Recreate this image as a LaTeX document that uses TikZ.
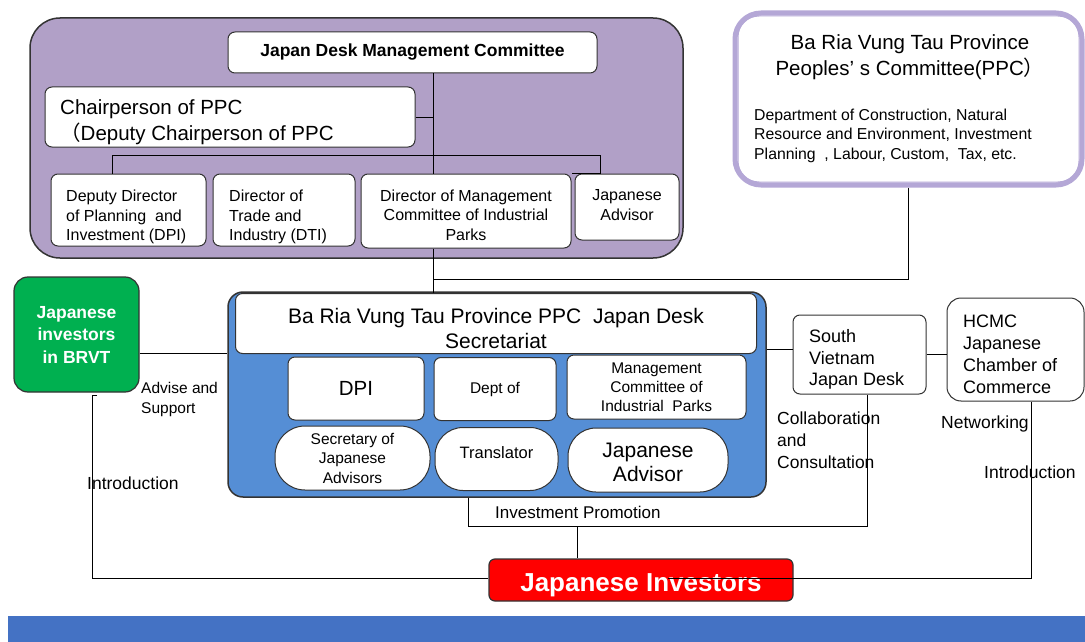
\documentclass[tikz,border=0pt]{standalone}
\usepackage{fontspec}
\setmainfont{Liberation Sans}
\newfontfamily\cjk{Noto Sans CJK JP}
\newcommand\fsz[2]{\fontsize{#1}{#2}\selectfont}
\definecolor{edge}{HTML}{333333}
\definecolor{pbg}{HTML}{B1A0C7}
\definecolor{lav}{HTML}{B4A7D6}
\definecolor{bbg}{HTML}{558ED5}
\definecolor{gbg}{HTML}{00B050}
\definecolor{band}{HTML}{4472C4}
\begin{document}
\begin{tikzpicture}[x=1pt,y=-1pt,
  bx/.style={draw=edge, fill=white, line width=1pt, rounded corners=7pt, inner sep=0pt},
  ln/.style={draw=black, line width=1pt},
  tx/.style={inner sep=0pt, align=center},
  lbl/.style={inner sep=0pt, anchor=west, align=left}]
\useasboundingbox (0,0) rectangle (1085,642);
\fill[white] (0,0) rectangle (1085,642);

% ---------- purple management block ----------
\node[draw=edge, line width=1.5pt, fill=pbg, rounded corners=30pt, minimum width=653pt, minimum height=240pt, inner sep=0pt] (pm) at (356.5,138) {};
\node[bx, minimum width=369pt, minimum height=41pt, font=\bfseries\fsz{17.5}{21}] (jdmc) at (412.5,52.5) {Japan Desk Management Committee};
\node[bx, minimum width=370pt, minimum height=60pt] (chair) at (230,117) {};
\node[lbl, font=\fsz{20.5}{26}] (chairT) at (60,122) {Chairperson of PPC\\{\cjk （}Deputy Chairperson of PPC};
\node[bx, minimum width=155pt, minimum height=72pt] (dd) at (128.5,210) {};
\node[lbl, font=\fsz{16}{19.5}] (ddT) at (66,217) {Deputy Director\\of Planning~ and\\Investment (DPI)};
\node[bx, minimum width=142pt, minimum height=72pt] (dt) at (284,210) {};
\node[lbl, font=\fsz{16}{19.5}] (dtT) at (229,217) {Director of\\Trade and\\Industry (DTI)};
\node[bx, minimum width=210pt, minimum height=74pt] (dm) at (466,211) {};
\node[tx, font=\fsz{16}{19.5}] (dmT) at (466,215) {Director of Management\\Committee of Industrial\\Parks};
\node[bx, minimum width=104pt, minimum height=66pt] (ja) at (627,207) {};
\node[tx, font=\fsz{16}{19.5}] (jaT) at (627,205) {Japanese\\Advisor};

\coordinate (vx) at (433,0);
\coordinate (bl) at (112,155);
\coordinate (br) at (600,155);
\draw[ln] (jdmc.south -| vx) -- (dm.north -| vx);
\draw[ln] (chair.east) -- (chair.east -| vx);
\draw[ln] (dd.north -| bl) -- (bl) -- (br) -- (ja.north -| br) -- (ja.north -| dm.east);

% ---------- PPC block ----------
\node[draw=lav, line width=5pt, fill=white, rounded corners=26pt, minimum width=347pt, minimum height=172pt, inner sep=0pt] (ppc) at (908.5,99) {};
\draw[lav, line width=1pt, rounded corners=21pt] ([shift={(5.5,5.5)}]ppc.north west) rectangle ([shift={(-5.5,-5.5)}]ppc.south east);
\node[tx, font=\fsz{20.5}{26}] (ppcT) at (910,57) {Ba Ria Vung Tau Province\\Peoples’ s Committee(PPC{\cjk ）}};
\node[lbl, font=\fsz{15.8}{19.5}] (ppcD) at (754,135.5) {Department of Construction, Natural\\Resource and Environment, Investment\\Planning~~, Labour, Custom,~ Tax, etc.};

% ---------- secretariat (blue) ----------
\node[draw=edge, line width=1.5pt, fill=bbg, rounded corners=15pt, minimum width=538pt, minimum height=205pt, inner sep=0pt] (blue) at (497,394.5) {};
\node[bx, minimum width=521pt, minimum height=60pt] (sec) at (496,323.5) {};
\node[tx, font=\fsz{21}{25}] (secT) at (496,328.5) {Ba Ria Vung Tau Province PPC~ Japan Desk\\Secretariat};
\node[bx, minimum width=136pt, minimum height=63pt, font=\fsz{20.5}{24}] (dpi) at (356,388.5) {DPI};
\node[bx, minimum width=122pt, minimum height=63pt, font=\fsz{15.5}{19}] (dept) at (495,389) {Dept of};
\node[bx, minimum width=179pt, minimum height=64pt, align=center, font=\fsz{15.5}{19}] (mc) at (656.5,387) {Management\\Committee of\\Industrial~ Parks};
\node[bx, rounded corners=30pt, minimum width=155pt, minimum height=64pt, align=center, font=\fsz{15.5}{19.5}] (secj) at (352.5,458) {Secretary of\\Japanese\\Advisors};
\node[bx, rounded corners=28pt, minimum width=123pt, minimum height=63pt] (tr) at (496.5,459) {};
\node[tx, font=\fsz{16.5}{20}] (trT) at (496.5,453) {Translator};
\node[bx, rounded corners=28pt, minimum width=160pt, minimum height=64pt] (jadv) at (648,460) {};
\node[tx, font=\fsz{21}{24}] (jadvT) at (648,462) {Japanese\\Advisor};

% ---------- side boxes ----------
\node[draw=edge, line width=1.2pt, fill=gbg, rounded corners=14pt, minimum width=125pt, minimum height=115pt, inner sep=0pt] (gr) at (76.5,334.5) {};
\node[tx, text=white, font=\bfseries\fsz{17.5}{22.5}] (grT) at (76.5,334.5) {Japanese\\investors\\in BRVT};
\node[bx, minimum width=133pt, minimum height=79pt] (sv) at (859.5,354.5) {};
\node[lbl, font=\fsz{18}{21.5}] (svT) at (809,359.5) {South\\Vietnam\\Japan Desk};
\node[bx, rounded corners=14pt, minimum width=137pt, minimum height=103pt] (hc) at (1015.5,349.5) {};
\node[lbl, font=\fsz{18}{22}] (hcT) at (963,354) {HCMC\\Japanese\\Chamber of\\Commerce};
\node[draw=edge, line width=1.2pt, fill=red, rounded corners=6pt, minimum width=304pt, minimum height=42pt, inner sep=0pt] (ji) at (641,580) {};
\node[tx, text=white, font=\bfseries\fsz{26}{30}] (jiT) at (641,585) {Japanese Investors};

% ---------- connectors ----------
\coordinate (ly) at (0,353);
\coordinate (ry) at (0,349.5);
\coordinate (hy) at (0,279);
\coordinate (ty) at (0,526);
\coordinate (by) at (0,578);
\coordinate (ix) at (92,395);
\coordinate (px) at (468,0);
\coordinate (sx) at (867,0);
\coordinate (jx) at (577,0);
\coordinate (hx) at (1031,0);
\coordinate (ex) at (668,0);
\draw[ln] (dm.south -| vx) -- (sec.north -| vx);
\draw[ln] (ppc.south) |- (vx |- hy);
\draw[ln] (gr.east |- ly) -- (blue.west |- ly);
\draw[ln] (blue.east |- ry) -- (sv.west |- ry);
\draw[ln] (sv.east) -- (hc.west |- sv.east);
\draw[ln] ([xshift=5pt]ix) -- (ix) |- (ji.west |- by);
\draw[ln] (blue.south -| px) |- (sx |- ty) -- (sv.south -| sx);
\draw[ln] (jx |- ty) -- (ji.north -| jx);
\draw[ln] (hc.south -| hx) |- (ex |- by);

% ---------- labels ----------
\node[lbl, font=\fsz{15.5}{20}] (l1) at (141,399) {Advise and\\Support};
\node[lbl, font=\fsz{17.5}{22}] (l2) at (87,483) {Introduction};
\node[lbl, font=\fsz{17.5}{22}] (l3) at (777,440) {Collaboration\\and\\Consultation};
\node[lbl, font=\fsz{17.5}{22}] (l4) at (941,424) {Networking};
\node[lbl, font=\fsz{17.5}{22}] (l5) at (984,472) {Introduction};
\node[lbl, font=\fsz{17}{22}] (l6) at (495,512) {Investment Promotion};

% ---------- bottom band ----------
\fill[band] (8,616) rectangle (1085,642);
\end{tikzpicture}
\end{document}
